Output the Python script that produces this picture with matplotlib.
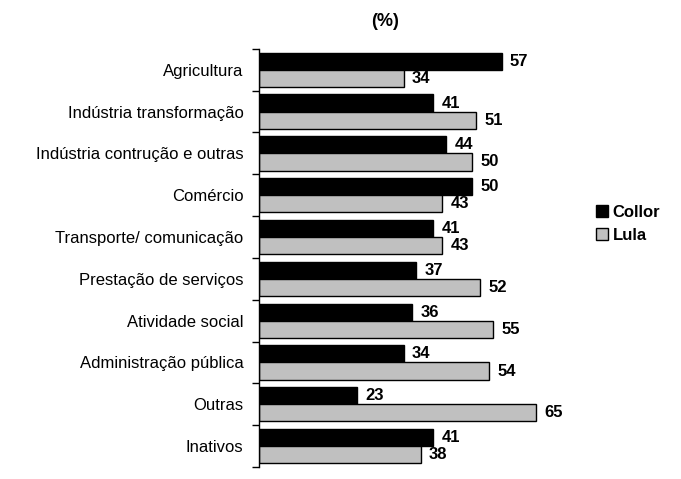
import numpy as np
import matplotlib.pyplot as plt

plt.rcParams['font.family'] = ['Liberation Sans', 'DejaVu Sans']

categories = ['Agricultura', 'Indústria transformação', 'Indústria contrução e outras',
              'Comércio', 'Transporte/ comunicação', 'Prestação de serviços',
              'Atividade social', 'Administração pública', 'Outras', 'Inativos']
collor = [57, 41, 44, 50, 41, 37, 36, 34, 23, 41]
lula = [34, 51, 50, 43, 43, 52, 55, 54, 65, 38]

y = np.arange(len(categories))
h = 0.41

fig = plt.figure(figsize=(6.81, 4.79), dpi=100, facecolor='white')
ax = fig.add_axes([0.380, 0.025, 0.438, 0.873])

b1 = ax.barh(y - h / 2, collor, h, color='black', edgecolor='black', linewidth=1, label='Collor')
b2 = ax.barh(y + h / 2, lula, h, color='#c0c0c0', edgecolor='black', linewidth=1, label='Lula')

for rects in (b1, b2):
    for r in rects:
        ax.annotate(f'{r.get_width():.0f}',
                    xy=(r.get_width(), r.get_y() + r.get_height() / 2),
                    xytext=(6, 0), textcoords='offset points',
                    ha='left', va='center', fontsize=12, fontweight='bold')

ax.set_xlim(0, 70)
ax.set_ylim(len(categories) - 0.5, -0.5)
ax.set_yticks(y)
ax.set_yticklabels(categories, fontsize=12)
ax.set_yticks(np.arange(-0.5, len(categories)), minor=True)
ax.tick_params(axis='y', which='major', length=0, pad=11)
ax.tick_params(axis='y', which='minor', length=5, width=1, direction='out')
ax.set_xticks([])
for side in ('top', 'right', 'bottom'):
    ax.spines[side].set_visible(False)
ax.spines['left'].set_linewidth(1)

fig.text(0.565, 0.956, '(%)', ha='center', va='center', fontsize=13, fontweight='bold')

leg = ax.legend(loc='center left', bbox_to_anchor=(0.853, 0.533), bbox_transform=fig.transFigure,
                frameon=False, handlelength=0.7, handleheight=0.7, handletextpad=0.3,
                labelspacing=0.5, prop={'weight': 'bold', 'size': 12})

fig.savefig('out.png', dpi=100)
